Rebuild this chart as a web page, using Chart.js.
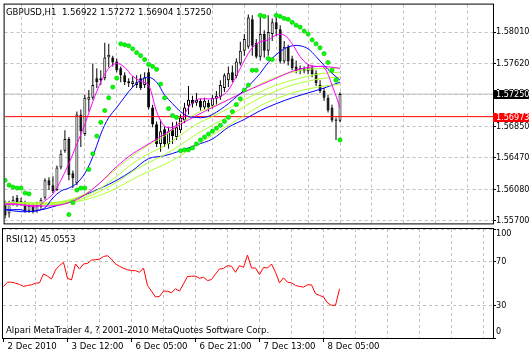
<!DOCTYPE html>
<html>
<head>
<meta charset="utf-8">
<script src="https://cdn.jsdelivr.net/npm/chart.js@4.4.1/dist/chart.umd.min.js"></script>
<style>
  html, body { margin: 0; padding: 0; background: #fff; }
  #wrap { position: relative; width: 529px; height: 355px; overflow: hidden; }
  canvas { position: absolute; left: 0; }
  #main { top: 0; }
  #rsi { top: 228px; }
</style>
</head>
<body>
<div id="wrap">
  <canvas id="main" width="529" height="228"></canvas>
  <canvas id="rsi" width="529" height="127"></canvas>
</div>
<script>
// chart data
var symbol = "GBPUSD", period = "H1";
var timeLabels = ["2 Dec 2010", "3 Dec 12:00", "6 Dec 05:00", "6 Dec 21:00", "7 Dec 13:00", "8 Dec 05:00"];
var timeLabelBars = [0, 16, 32, 48, 64, 80];

var open = [1.55892,1.55784,1.55905,1.55977,1.55905,1.55917,1.55820,1.55880,1.55820,1.55868,
  1.55977,1.56193,1.56133,1.56073,1.56350,1.56554,1.56699,1.56278,1.56157,1.56999,
  1.56759,1.57180,1.57204,1.57445,1.57420,1.57445,1.57697,1.57697,1.57649,1.57565,
  1.57481,1.57408,1.57372,1.57360,1.57445,1.57360,1.57517,1.57084,1.56879,1.56638,
  1.56819,1.56638,1.56819,1.56723,1.56807,1.56927,1.57108,1.57180,1.57144,1.57168,
  1.57084,1.57144,1.57108,1.57192,1.57216,1.57324,1.57420,1.57517,1.57469,1.57625,
  1.57781,1.57830,1.58166,1.57878,1.57709,1.57986,1.57781,1.57986,1.58130,1.58046,
  1.57649,1.57830,1.57685,1.57589,1.57529,1.57565,1.57529,1.57577,1.57505,1.57360,
  1.57288,1.57204,1.57084,1.56939,1.56922];
var high = [1.55941,1.55941,1.56001,1.56013,1.55977,1.55941,1.55917,1.55905,1.55929,1.55977,
  1.56217,1.56229,1.56241,1.56374,1.56566,1.56807,1.56723,1.56314,1.57035,1.57060,
  1.57240,1.57300,1.57625,1.57565,1.57541,1.57878,1.57866,1.57721,1.57685,1.57589,
  1.57517,1.57445,1.57469,1.57481,1.57493,1.57517,1.57565,1.57120,1.56915,1.56939,
  1.56855,1.56843,1.56903,1.56915,1.56999,1.57144,1.57348,1.57228,1.57264,1.57192,
  1.57204,1.57180,1.57240,1.57288,1.57420,1.57505,1.57589,1.57601,1.57685,1.57890,
  1.57986,1.58227,1.58215,1.57926,1.58227,1.58034,1.58215,1.58178,1.58190,1.58094,
  1.57902,1.57854,1.57721,1.57661,1.57601,1.57589,1.57613,1.57601,1.57541,1.57420,
  1.57324,1.57240,1.57120,1.56963,1.57272];
var low = [1.55724,1.55736,1.55880,1.55868,1.55880,1.55796,1.55796,1.55784,1.55796,1.55844,
  1.55953,1.56073,1.56037,1.56061,1.56326,1.56530,1.56193,1.56097,1.56133,1.56602,
  1.56735,1.57035,1.57180,1.57324,1.57360,1.57420,1.57577,1.57589,1.57517,1.57396,
  1.57360,1.57336,1.57336,1.57324,1.57300,1.57324,1.57060,1.56843,1.56602,1.56542,
  1.56602,1.56578,1.56638,1.56687,1.56771,1.56891,1.56999,1.57084,1.57108,1.57048,
  1.57060,1.57035,1.57072,1.57120,1.57180,1.57276,1.57336,1.57396,1.57445,1.57601,
  1.57721,1.57805,1.57721,1.57685,1.57661,1.57697,1.57721,1.57902,1.57962,1.57625,
  1.57625,1.57601,1.57541,1.57505,1.57493,1.57505,1.57493,1.57457,1.57348,1.57264,
  1.57168,1.57023,1.56903,1.56687,1.56904];
var close = [1.55760,1.55905,1.55953,1.55892,1.55941,1.55820,1.55880,1.55808,1.55892,1.55953,
  1.56193,1.56133,1.56061,1.56350,1.56518,1.56699,1.56253,1.56217,1.56999,1.56795,
  1.57204,1.57216,1.57360,1.57396,1.57445,1.57697,1.57733,1.57637,1.57541,1.57481,
  1.57396,1.57384,1.57408,1.57396,1.57324,1.57457,1.57084,1.56879,1.56638,1.56795,
  1.56638,1.56795,1.56735,1.56843,1.56963,1.57084,1.57180,1.57132,1.57180,1.57084,
  1.57168,1.57084,1.57204,1.57228,1.57360,1.57481,1.57505,1.57420,1.57649,1.57781,
  1.57926,1.58190,1.57842,1.57709,1.57986,1.57781,1.58010,1.58130,1.58046,1.57649,
  1.57830,1.57649,1.57565,1.57529,1.57565,1.57529,1.57577,1.57493,1.57384,1.57288,
  1.57204,1.57048,1.56927,1.56922,1.57250];

// moving averages, read every 2nd / 4th bar
var maStepFast = 2, maStepSlow = 4;
var maMagentaFast = [1.55892,1.55905,1.55892,1.55880,1.55868,1.55941,1.56025,1.56193,1.56398,1.56638,
  1.56879,1.57156,1.57396,1.57565,1.57625,1.57577,1.57469,1.57408,1.57360,1.57035,
  1.56855,1.56843,1.56915,1.57084,1.57180,1.57192,1.57192,1.57216,1.57300,1.57469,
  1.57661,1.57817,1.57890,1.57914,1.57974,1.57974,1.57866,1.57709,1.57613,1.57589,
  1.57577,1.57360,1.57084];
var maBlueFast = [1.55832,1.55832,1.55832,1.55808,1.55820,1.55856,1.55977,1.56061,1.56097,1.56157,
  1.56277,1.56482,1.56759,1.56963,1.57084,1.57216,1.57336,1.57420,1.57457,1.57396,
  1.57240,1.57132,1.57035,1.56975,1.56963,1.56963,1.56999,1.57060,1.57132,1.57216,
  1.57300,1.57396,1.57505,1.57637,1.57733,1.57805,1.57842,1.57842,1.57805,1.57709,
  1.57601,1.57505,1.57420];
var maBlueSlow = [1.55832,1.55808,1.55820,1.55868,1.55929,1.56013,1.56097,1.56193,1.56314,1.56458,
  1.56494,1.56554,1.56626,1.56699,1.56843,1.56939,1.57047,1.57132,1.57204,1.57264,1.57324,1.57396];
var maMagentaSlow = [1.55905,1.55892,1.55880,1.55880,1.55917,1.56013,1.56169,1.56362,1.56518,1.56638,
  1.56759,1.56879,1.56987,1.57084,1.57180,1.57276,1.57360,1.57445,1.57529,1.57577,1.57589,1.57565];
var maGreen1 = [1.55917,1.55917,1.55905,1.55917,1.55953,1.56025,1.56169,1.56338,1.56494,1.56626,
  1.56735,1.56891,1.57011,1.57096,1.57180,1.57276,1.57372,1.57457,1.57517,1.57553,1.57565,1.57565];
var maGreen2 = [1.55917,1.55917,1.55917,1.55917,1.55941,1.56001,1.56097,1.56241,1.56398,1.56518,
  1.56614,1.56747,1.56879,1.56975,1.57072,1.57180,1.57276,1.57360,1.57420,1.57469,1.57505,1.57517];
var maGreen3 = [1.55905,1.55905,1.55905,1.55905,1.55929,1.55977,1.56061,1.56169,1.56302,1.56410,
  1.56506,1.56626,1.56759,1.56867,1.56975,1.57096,1.57204,1.57288,1.57360,1.57408,1.57445,1.57457];
var maGreen4 = [1.55892,1.55892,1.55892,1.55892,1.55917,1.55953,1.56013,1.56097,1.56205,1.56302,
  1.56386,1.56494,1.56626,1.56747,1.56867,1.56987,1.57108,1.57192,1.57264,1.57312,1.57348,1.57372];

// parabolic SAR, one per bar (null where no dot is visible)
var sar = [1.56193,1.56133,1.56109,1.56097,1.56097,1.56037,1.56025,null,null,null,
  null,null,null,null,null,null,1.55772,1.55917,1.56073,1.56097,
  1.56097,1.56326,1.56518,1.56735,1.56903,1.57048,1.57204,1.57336,1.57445,1.57866,
  1.57854,1.57842,1.57805,1.57757,1.57721,1.57673,1.57613,1.57589,1.57553,1.57372,
  1.57204,1.57072,1.56987,1.56963,1.56554,1.56566,1.56566,1.56590,1.56638,1.56687,
  1.56723,1.56759,1.56795,1.56831,1.56867,1.56915,1.56963,1.57035,1.57120,1.57192,
  1.57300,1.57360,1.57541,1.57541,1.58215,1.58202,1.57685,1.57673,1.58215,1.58202,
  1.58178,1.58166,1.58130,1.58094,1.58070,1.58022,1.57986,1.57914,1.57866,1.57817,
  1.57745,1.57637,1.57541,1.57420,1.56687];

var rsiPeriod = 12;
var rsi = [47.3,51.2,51.2,50.3,49.1,47.3,48.2,48.8,50.3,50.6,
  58.8,56.7,54.2,62.4,66.4,69.4,54.8,53.3,67.9,63.3,
  67.9,68.5,71.5,71.8,72.4,74.8,75.5,72.4,67.9,65.8,
  63.9,62.7,61.8,61.8,60.3,64.2,48.2,43.0,37.6,38.2,
  43.0,43.0,41.5,45.2,43.0,49.7,56.4,56.7,56.7,54.8,
  55.8,52.7,53.6,58.8,63.3,63.9,66.4,65.8,60.3,66.4,
  64.8,76.1,64.2,64.2,58.2,64.8,64.2,67.9,60.3,50.6,
  55.2,51.2,50.6,48.2,47.3,46.7,48.8,48.8,40.6,39.1,
  37.6,32.1,30.0,30.0,45.0553];

var priceTicks = [1.55700, 1.56080, 1.56470, 1.56850, 1.57250, 1.57620, 1.58010];
var rsiTicks = [0, 30, 70, 100];
var levelPrice = 1.56973;
var copyright = "Alpari MetaTrader 4, ? 2001-2010 MetaQuotes Software Corp.";

// ---------------------------------------------------------------
var FONT = "'DejaVu Sans Condensed', 'DejaVu Sans', sans-serif";
var FS = 9.5;
Chart.defaults.font.family = FONT;
Chart.defaults.font.size = FS;
Chart.defaults.color = "#000";
Chart.defaults.animation = false;

var xMin = -0.125, xMax = 122.375;
var priceMin = 1.55664, priceMax = 1.58347;
var GRID = "#c0c0c0";
var last = close.length - 1;
var bid = close[last];

function gridTicks(from) {
  var t = [];
  for (var v = from; v <= xMax; v += 8) t.push({ value: v });
  return t;
}
function series(values, step) {
  return values.map(function (v, k) { return { x: k * step, y: v }; });
}
function maLine(values, step, color) {
  return { type: "line", data: series(values, step), borderColor: color, borderWidth: 1,
    pointRadius: 0, tension: 0.35, order: 1 };
}

var title = symbol + "," + period + "  " +
  [open[last], high[last], low[last], close[last]].map(function (v) { return v.toFixed(5); }).join(" ");

var mainDecor = {
  id: "mainDecor",
  afterDraw: function (chart) {
    var ctx = chart.ctx, a = chart.chartArea, y = chart.scales.y;
    ctx.save();
    ctx.strokeStyle = "#000";
    ctx.lineWidth = 1;
    ctx.strokeRect(a.left - 0.5, a.top - 0.5, a.right - a.left + 1, a.bottom - a.top + 1);
    ctx.font = FS + "px " + FONT;
    ctx.fillStyle = "#000";
    ctx.textBaseline = "alphabetic";
    ctx.fillText(title, 6, 15);

    function priceBox(price, bg) {
      var py = Math.round(y.getPixelForValue(price));
      ctx.fillStyle = bg;
      ctx.fillRect(a.right, py - 4, chart.width - a.right, 9);
      ctx.fillStyle = "#fff";
      ctx.textBaseline = "middle";
      ctx.font = "9px " + FONT;
      ctx.fillText(price.toFixed(5), a.right + 3, py + 0.5);
    }
    priceBox(bid, "#000");
    priceBox(levelPrice, "#ff0000");
    ctx.restore();
  }
};

new Chart(document.getElementById("main"), {
  type: "bar",
  data: {
    datasets: [
      { type: "line", data: sar.map(function (v, i) { return v == null ? null : { x: i, y: v }; })
          .filter(function (p) { return p; }),
        showLine: false, pointStyle: "circle", pointRadius: 2.1,
        pointBackgroundColor: "#00ff00", pointBorderColor: "#00c000", pointBorderWidth: 0.6, order: 0 },
      maLine(maMagentaFast, maStepFast, "#ff00ff"),
      maLine(maBlueFast, maStepFast, "#0000ff"),
      maLine(maMagentaSlow, maStepSlow, "#ff00ff"),
      maLine(maGreen1, maStepSlow, "#adff2f"),
      maLine(maGreen2, maStepSlow, "#adff2f"),
      maLine(maGreen3, maStepSlow, "#adff2f"),
      maLine(maGreen4, maStepSlow, "#adff2f"),
      maLine(maBlueSlow, maStepSlow, "#0000ff"),
      { type: "line", data: [{ x: xMin, y: levelPrice }, { x: xMax, y: levelPrice }],
        borderColor: "#ff0000", borderWidth: 1, pointRadius: 0, order: 4 },
      { type: "bar", data: open.map(function (o, i) { return { x: i, y: [o, close[i]] }; }),
        backgroundColor: open.map(function (o, i) { return close[i] >= o ? "#ffffff" : "#000000"; }),
        borderColor: "#000", borderWidth: 1, borderSkipped: false, barThickness: 3,
        inflateAmount: 0, grouped: false, order: 5 },
      { type: "bar", data: open.map(function (o, i) { return { x: i, y: [low[i], high[i]] }; }),
        backgroundColor: "#000", borderWidth: 0, barThickness: 1,
        inflateAmount: 0, grouped: false, order: 6 },
      { type: "line", data: [{ x: xMin, y: bid }, { x: xMax, y: bid }],
        borderColor: GRID, borderWidth: 1, pointRadius: 0, order: 9 }
    ]
  },
  options: {
    responsive: false,
    devicePixelRatio: 1,
    layout: { padding: { left: 3, top: 3, right: 0, bottom: 2 } },
    plugins: { legend: { display: false }, tooltip: { enabled: false } },
    scales: {
      x: {
        type: "linear", min: xMin, max: xMax, offset: false,
        afterBuildTicks: function (s) { s.ticks = gridTicks(8); },
        ticks: { display: false },
        grid: { color: GRID, drawTicks: false },
        border: { display: false, dash: [3, 3] },
        afterFit: function (s) { s.height = 0; s.paddingLeft = 0; s.paddingRight = 0; }
      },
      y: {
        type: "linear", position: "right", min: priceMin, max: priceMax,
        afterBuildTicks: function (s) { s.ticks = priceTicks.map(function (v) { return { value: v }; }); },
        ticks: { callback: function (v) { return v.toFixed(5); }, padding: 0, autoSkip: false,
          font: { size: 9 } },
        grid: { color: GRID, tickColor: "#000", tickLength: 3 },
        border: { display: true, color: "#000", dash: [3, 3] },
        afterFit: function (s) { s.width = 36; s.paddingTop = 0; s.paddingBottom = 0; }
      }
    }
  },
  plugins: [mainDecor]
});

var rsiDecor = {
  id: "rsiDecor",
  afterDraw: function (chart) {
    var ctx = chart.ctx, a = chart.chartArea, y = chart.scales.y;
    ctx.save();
    ctx.strokeStyle = "#000";
    ctx.lineWidth = 1;
    ctx.strokeRect(a.left - 0.5, a.top - 0.5, a.right - a.left + 1, a.bottom - a.top + 1);
    ctx.font = FS + "px " + FONT;
    ctx.fillStyle = "#000";
    ctx.textBaseline = "alphabetic";
    ctx.fillText("RSI(" + rsiPeriod + ") " + rsi[rsi.length - 1].toFixed(4), 6, 14);
    ctx.fillText(copyright, 6, 105);
    ctx.textBaseline = "middle";
    ctx.font = "9px " + FONT;
    rsiTicks.forEach(function (v) {
      var py = y.getPixelForValue(v);
      py = Math.min(Math.max(py, a.top + 5), a.bottom - 6);
      ctx.fillText(String(v), a.right + 3, py);
    });
    ctx.restore();
  }
};

new Chart(document.getElementById("rsi"), {
  type: "line",
  data: {
    datasets: [
      { data: rsi.map(function (v, i) { return { x: i, y: v }; }), borderColor: "#ff0000",
        borderWidth: 1, pointRadius: 0, tension: 0 }
    ]
  },
  options: {
    responsive: false,
    devicePixelRatio: 1,
    layout: { padding: { left: 3, top: 1, right: 0, bottom: 0 } },
    plugins: { legend: { display: false }, tooltip: { enabled: false } },
    scales: {
      x: {
        type: "linear", min: xMin, max: xMax, offset: false,
        afterBuildTicks: function (s) { s.ticks = gridTicks(0); },
        ticks: {
          autoSkip: false, maxRotation: 0, minRotation: 0, align: "start", labelOffset: 4, padding: -1,
          callback: function (v) { var k = timeLabelBars.indexOf(v); return k >= 0 ? timeLabels[k] : ""; }
        },
        grid: {
          color: function (c) { return c.tick && c.tick.value === 0 ? "rgba(0,0,0,0)" : GRID; },
          tickColor: function (c) { return c.tick && timeLabelBars.indexOf(c.tick.value) >= 0 ? "#000" : "rgba(0,0,0,0)"; },
          tickLength: 4
        },
        border: { display: false, dash: [3, 3] },
        afterFit: function (s) { s.height = 17; s.paddingLeft = 0; s.paddingRight = 0; }
      },
      y: {
        type: "linear", position: "right", min: 0, max: 100,
        afterBuildTicks: function (s) { s.ticks = rsiTicks.map(function (v) { return { value: v }; }); },
        ticks: { display: false },
        grid: { color: GRID, tickColor: "#000", tickLength: 3 },
        border: { display: true, color: "#000", dash: [3, 3] },
        afterFit: function (s) { s.width = 36; s.paddingTop = 0; s.paddingBottom = 0; }
      }
    }
  },
  plugins: [rsiDecor]
});
</script>
</body>
</html>
